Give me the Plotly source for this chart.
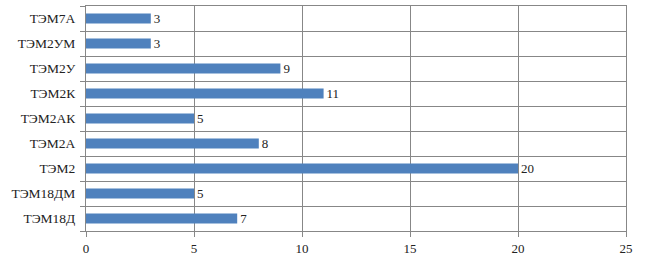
import plotly.graph_objects as go

categories = ["ТЭМ18Д", "ТЭМ18ДМ", "ТЭМ2", "ТЭМ2А", "ТЭМ2АК", "ТЭМ2К", "ТЭМ2У", "ТЭМ2УМ", "ТЭМ7А"]
values = [7, 5, 20, 8, 5, 11, 9, 3, 3]
x_ticks = [0, 5, 10, 15, 20, 25]

font_family = "Liberation Serif, Times New Roman, serif"
grid_color = "#878787"

fig = go.Figure(go.Bar(
    y=categories,
    x=values,
    orientation="h",
    marker=dict(color="#4f81bd", line=dict(width=0)),
    width=0.4,
    text=[str(v) for v in values],
    textposition="outside",
    constraintext="none",
    textfont=dict(family=font_family, size=13, color="#222222"),
    cliponaxis=False,
))

fig.update_layout(
    width=646, height=261,
    margin=dict(l=86, r=20, t=5, b=29),
    paper_bgcolor="white", plot_bgcolor="white",
    showlegend=False,
    bargap=0.6,
    font=dict(family=font_family, size=13, color="#222222"),
)

fig.update_xaxes(
    range=[0, 25],
    tickvals=x_ticks,
    ticktext=[str(t) for t in x_ticks],
    showgrid=True, gridcolor=grid_color, gridwidth=1,
    showline=True, linecolor=grid_color, linewidth=1, mirror=True,
    ticks="outside", ticklen=5, tickcolor=grid_color,
    zeroline=False,
    tickfont=dict(family=font_family, size=13, color="#222222"),
)

fig.update_yaxes(
    type="category",
    categoryorder="array", categoryarray=categories,
    tickson="boundaries",
    showgrid=True, gridcolor=grid_color, gridwidth=1,
    showline=True, linecolor=grid_color, linewidth=1, mirror=True,
    ticks="outside", ticklen=5, tickcolor=grid_color,
    tickfont=dict(family=font_family, size=13.5, color="#222222"),
    ticklabelstandoff=7,
)

fig.write_html("out.html")
